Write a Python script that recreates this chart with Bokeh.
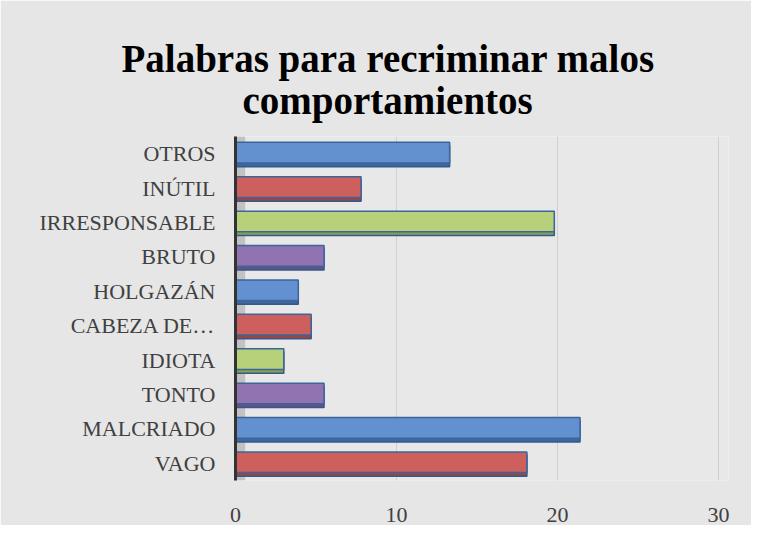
from bokeh.plotting import figure
from bokeh.models import ColumnDataSource, FixedTicker, Title, Range1d, BoxAnnotation
from bokeh.transform import dodge
from bokeh.embed import file_html
from bokeh.resources import INLINE

categories = ["VAGO", "MALCRIADO", "TONTO", "IDIOTA", "CABEZA DE…",
              "HOLGAZÁN", "BRUTO", "IRRESPONSABLE", "INÚTIL", "OTROS"]
values = [18.1, 21.4, 5.5, 3.0, 4.7, 3.9, 5.5, 19.8, 7.8, 13.3]
colors = ["#cd5f5d", "#6391d0", "#9173b2", "#b6d17a", "#cd5f5d",
          "#6391d0", "#9173b2", "#b6d17a", "#cd5f5d", "#6391d0"]
shade_colors = ["#9a4543", "#3f679e", "#684f88", "#86a250", "#9a4543",
                "#3f679e", "#684f88", "#86a250", "#9a4543", "#3f679e"]
x_ticks = [0, 10, 20, 30]
title_lines = ["Palabras para recriminar malos", "comportamientos"]

src = ColumnDataSource(dict(cat=categories, val=values, col=colors,
                            shade=shade_colors))

p = figure(width=751, height=525, y_range=categories, x_range=Range1d(0, 30.62),
           output_backend="svg", toolbar_location=None,
           min_border_left=235, min_border_right=23, min_border_top=136,
           min_border_bottom=45)
p.title.visible = False

p.add_layout(Title(text=title_lines[1], text_font="Liberation Serif",
                   text_font_size="39px", text_font_style="bold",
                   text_color="#000000", align="left", offset=7,
                   standoff=29), "above")
p.add_layout(Title(text=title_lines[0], text_font="Liberation Serif",
                   text_font_size="39px", text_font_style="bold",
                   text_color="#000000", align="left", offset=-114,
                   standoff=-35), "above")

wall = BoxAnnotation(left=0, right=0.6, fill_color="#b8b8b8", fill_alpha=0.8,
                     line_color=None, level="underlay")
p.add_layout(wall)

# darker depth face under each bar (3D look)
p.hbar(y=dodge("cat", -0.07, range=p.y_range), right="val", left=0,
       height=0.62, source=src, fill_color="shade", line_color="#34598c",
       line_width=1.5)
p.hbar(y=dodge("cat", 0.03, range=p.y_range), right="val", left=0,
       height=0.6, source=src, fill_color="col", line_color="#3b659b",
       line_width=1.5)

p.background_fill_color = "#e8e8e8"
p.border_fill_color = "#e6e6e6"
p.outline_line_color = None

p.xaxis.ticker = FixedTicker(ticks=x_ticks)
p.xaxis.axis_line_color = None
p.xaxis.major_tick_line_color = None
p.xaxis.minor_tick_line_color = None
p.xaxis.major_label_text_font = "Liberation Serif"
p.xaxis.major_label_text_font_size = "22px"
p.xaxis.major_label_text_color = "#404040"
p.xaxis.major_label_standoff = 21

p.yaxis.axis_line_color = "#333333"
p.yaxis.axis_line_width = 3
p.yaxis.major_tick_line_color = None
p.yaxis.minor_tick_line_color = None
p.yaxis.major_label_text_font = "Liberation Serif"
p.yaxis.major_label_text_font_size = "22px"
p.yaxis.major_label_text_color = "#404040"
p.yaxis.major_label_standoff = 14

p.xgrid.grid_line_color = "#d0d0d0"
p.ygrid.grid_line_color = None

open("out.html", "w").write(file_html(p, INLINE))
